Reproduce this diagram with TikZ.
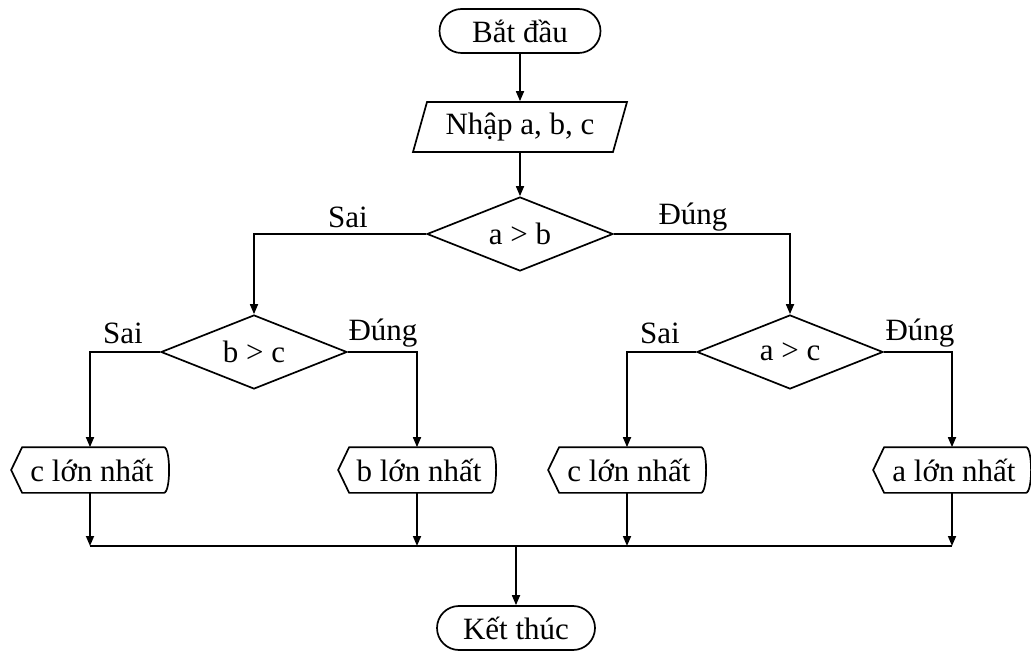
\documentclass[tikz,border=0pt]{standalone}
\usepackage{fontspec}
\setmainfont{Liberation Serif}
\usetikzlibrary{shapes.geometric,arrows.meta,calc}
\newcommand\dispshape[1]{\draw ([xshift=11pt]#1.north west) -- ([xshift=-5pt]#1.north east) .. controls ([xshift=2pt]#1.north east) and ([xshift=2pt]#1.south east) .. ([xshift=-5pt]#1.south east) -- ([xshift=11pt]#1.south west) -- (#1.west) -- cycle;}
\begin{document}
\begin{tikzpicture}[x=1pt,y=-1pt, line width=1.7pt,
  every node/.style={font=\fontsize{31}{36}\selectfont, text=black},
  term/.style={draw, rounded corners=22pt, minimum height=44pt, inner sep=0},
  dec/.style={draw, diamond, minimum width=186pt, minimum height=74pt, inner sep=0, aspect=2.5},
  plainbox/.style={inner sep=0, minimum width=156pt, minimum height=44pt},
  arr/.style={-{Triangle[length=10pt,width=8pt]}},
  lbl/.style={inner sep=0}]
\useasboundingbox (0,0) rectangle (1031,652);
% nodes
\node[term, minimum width=161pt] (start) at (520,31) {Bắt đầu};
\node[inner sep=0, minimum width=200pt, minimum height=50pt] (inp) at (520,127) {Nhập a, b, c};
\draw (427,102) -- (627,102) -- (613,152) -- (413,152) -- cycle;
\node[dec] (d1) at (520,234) {\raisebox{-3pt}{a > b}};
\node[dec] (d2) at (254,352) {\raisebox{-3pt}{b > c}};
\node[dec] (d3) at (790,352) {\raisebox{-3pt}{a > c}};
\node[plainbox] (o1) at (90,470) {\hspace*{4pt}c lớn nhất};
\node[plainbox] (o2) at (417,470) {\hspace*{4pt}b lớn nhất};
\node[plainbox] (o3) at (627,470) {\hspace*{4pt}c lớn nhất};
\node[plainbox] (o4) at (952,470) {\hspace*{4pt}a lớn nhất};
\dispshape{o1}
\dispshape{o2}
\dispshape{o3}
\dispshape{o4}
\node[term, minimum width=158pt] (end) at (516,628) {Kết thúc};
% labels
\node[lbl] (l1) at (348,217) {Sai};
\node[lbl] (l2) at (693,217) {Đúng};
\node[lbl] (l3) at (123,333) {Sai};
\node[lbl] (l4) at (383,333) {Đúng};
\node[lbl] (l5) at (660,333) {Sai};
\node[lbl] (l6) at (920,333) {Đúng};
% connectors
\draw[arr] (start) -- (inp);
\draw[arr] (inp) -- (d1);
\draw[arr] (d1.west) -| (d2.north);
\draw[arr] (d1.east) -| (d3.north);
\draw[arr] (d2.west) -| (o1.north);
\draw[arr] (d2.east) -| (o2.north);
\draw[arr] (d3.west) -| (o3.north);
\draw[arr] (d3.east) -| (o4.north);
\coordinate (j) at (516,546);
\draw[arr] (o1.south) -- (o1.south |- j);
\draw[arr] (o2.south) -- (o2.south |- j);
\draw[arr] (o3.south) -- (o3.south |- j);
\draw[arr] (o4.south) -- (o4.south |- j);
\draw (o1.south |- j) -- (o4.south |- j);
\draw[arr] (j) -- (end);
\end{tikzpicture}
\end{document}
